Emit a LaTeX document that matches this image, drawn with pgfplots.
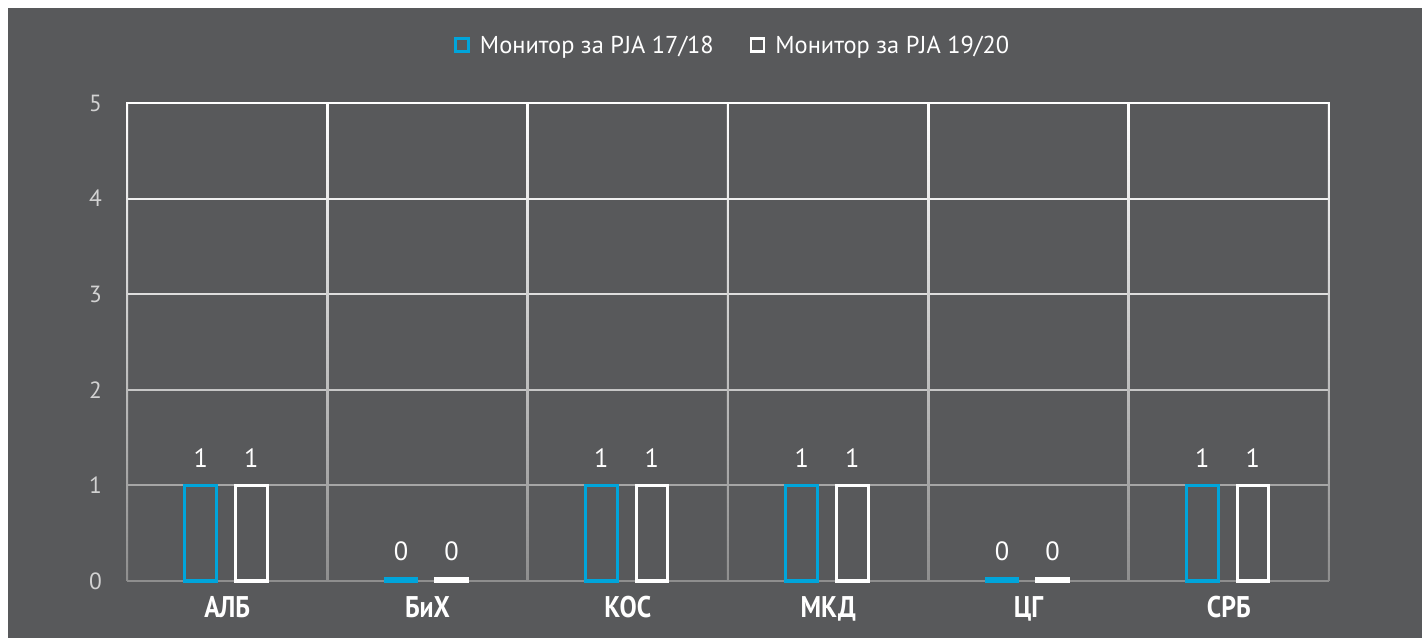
\documentclass[border=0pt]{standalone}
\usepackage{pgfplots}
\pgfplotsset{compat=1.18}
\usepackage{fontspec}
\setmainfont{PT Sans}
\newfontfamily\catfont[FakeStretch=0.86]{PT Sans}
\definecolor{bg}{HTML}{58595B}
\definecolor{cblue}{HTML}{00A5DB}
\definecolor{ticktext}{HTML}{D2D2D2}
\definecolor{g4}{HTML}{F0F0F0}
\definecolor{g3}{HTML}{DEDEDE}
\definecolor{g2}{HTML}{C6C6C6}
\definecolor{g1}{HTML}{A6A6A6}
\definecolor{g0}{HTML}{8E8E8E}
\begin{document}
\begin{tikzpicture}
\useasboundingbox (0,0) rectangle (1422bp,638bp);
\fill[white] (0,0) rectangle (1422bp,638bp);
\fill[bg] (8bp,0) rectangle (1422bp,630bp);
\begin{axis}[
  at={(127bp,57bp)}, anchor=south west,
  width=1202bp, height=478bp, scale only axis,
  xmin=-0.5, xmax=5.5, ymin=0, ymax=5,
  ybar, bar width=0.158,
  xtick={0,...,5}, xticklabels={АЛБ,БиХ,КОС,МКД,ЦГ,СРБ},
  ytick={0,...,5},
  major tick length=0,
  axis line style={draw=none},
  clip=false,
  xticklabel style={font=\catfont\bfseries\fontsize{30}{33}\selectfont, text=white, inner sep=0, anchor=base, yshift=-36bp},
  yticklabel style={font=\fontsize{23.5}{27}\selectfont, text=ticktext, inner sep=0, anchor=east, xshift=-25bp},
  /pgf/number format/assume math mode=true,
  point meta=explicit,
  nodes near coords,
  every node near coord/.append style={font=\fontsize{26.5}{30}\selectfont, text=white, anchor=south, inner sep=0, yshift=16bp},
  legend style={at={(0.504,1.121)}, anchor=center, draw=none, fill=none,
    legend columns=2, font=\fontsize{24.5}{28}\selectfont, text=white,
    /tikz/every odd column/.append style={column sep=8bp},
    /tikz/every even column/.append style={column sep=34bp}},
  mylegend/.style={legend image code/.code={\draw[##1, line width=2.6bp, fill=none] (0bp,-6.5bp) rectangle (13bp,6.5bp);}},
]
% grid
\draw[g0, line width=2bp] (axis cs:-0.5,0) -- (axis cs:5.5,0);
\draw[g1, line width=2bp] (axis cs:-0.5,1) -- (axis cs:5.5,1);
\draw[g2, line width=2bp] (axis cs:-0.5,2) -- (axis cs:5.5,2);
\draw[g3, line width=2bp] (axis cs:-0.5,3) -- (axis cs:5.5,3);
\draw[g4, line width=2bp] (axis cs:-0.5,4) -- (axis cs:5.5,4);
\shade[top color=white, bottom color=g0] ([xshift=-1bp]axis cs:-0.5,0) rectangle ([xshift=1bp]axis cs:-0.5,5);
\shade[top color=white, bottom color=g0] ([xshift=-1bp]axis cs:0.5,0) rectangle ([xshift=1bp]axis cs:0.5,5);
\shade[top color=white, bottom color=g0] ([xshift=-1bp]axis cs:1.5,0) rectangle ([xshift=1bp]axis cs:1.5,5);
\shade[top color=white, bottom color=g0] ([xshift=-1bp]axis cs:2.5,0) rectangle ([xshift=1bp]axis cs:2.5,5);
\shade[top color=white, bottom color=g0] ([xshift=-1bp]axis cs:3.5,0) rectangle ([xshift=1bp]axis cs:3.5,5);
\shade[top color=white, bottom color=g0] ([xshift=-1bp]axis cs:4.5,0) rectangle ([xshift=1bp]axis cs:4.5,5);
\shade[top color=white, bottom color=g0] ([xshift=-1bp]axis cs:5.5,0) rectangle ([xshift=1bp]axis cs:5.5,5);
\draw[white, line width=2.5bp] ([xshift=-1bp]axis cs:-0.5,5) -- ([xshift=1bp]axis cs:5.5,5);
% bars
\addplot[draw=cblue, line width=3bp, fill=none, bar shift=-0.132, mylegend]
  coordinates {(0,1) [1] (1,0.03) [0] (2,1) [1] (3,1) [1] (4,0.03) [0] (5,1) [1]};
\addlegendentry{Монитор за PJA 17/18}
\addplot[draw=white, line width=3bp, fill=none, bar shift=0.12, mylegend]
  coordinates {(0,1) [1] (1,0.03) [0] (2,1) [1] (3,1) [1] (4,0.03) [0] (5,1) [1]};
\addlegendentry{Монитор за PJA 19/20}
\end{axis}
\end{tikzpicture}
\end{document}
